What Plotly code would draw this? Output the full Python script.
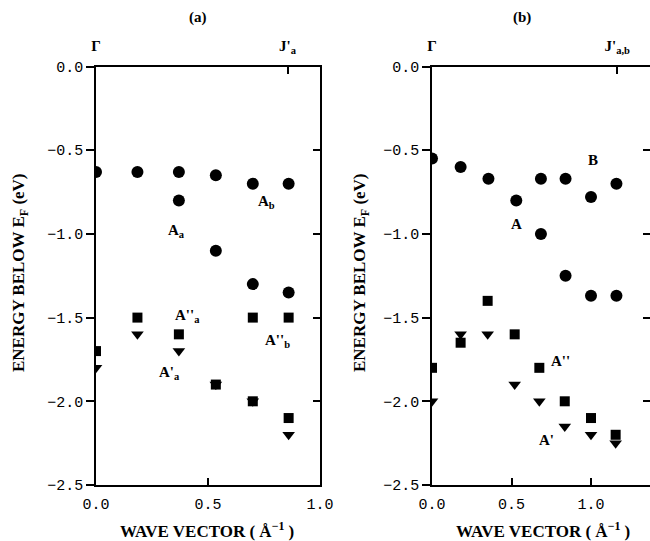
import plotly.graph_objects as go

# ---------------- data: panel (a) ----------------
a_circle_x = [0.0, 0.185, 0.37, 0.37, 0.535, 0.535, 0.70, 0.70, 0.86, 0.86]
a_circle_y = [-0.63, -0.63, -0.63, -0.80, -0.65, -1.10, -0.70, -1.30, -0.70, -1.35]
a_square_x = [0.0, 0.185, 0.37, 0.535, 0.70, 0.70, 0.86, 0.86]
a_square_y = [-1.70, -1.50, -1.60, -1.90, -1.50, -2.00, -1.50, -2.10]
a_tri_x = [0.0, 0.185, 0.37, 0.535, 0.70, 0.86]
a_tri_y = [-1.80, -1.60, -1.70, -1.90, -2.00, -2.20]

# ---------------- data: panel (b) ----------------
b_circle_x = [0.0, 0.18, 0.355, 0.53, 0.685, 0.685, 0.84, 0.84, 1.0, 1.0, 1.16, 1.16]
b_circle_y = [-0.55, -0.60, -0.67, -0.80, -0.67, -1.00, -0.67, -1.25, -0.78, -1.37, -0.70, -1.37]
b_square_x = [0.0, 0.18, 0.35, 0.52, 0.675, 0.835, 1.0, 1.155]
b_square_y = [-1.80, -1.65, -1.40, -1.60, -1.80, -2.00, -2.10, -2.20]
b_tri_x = [0.0, 0.18, 0.35, 0.52, 0.675, 0.835, 1.0, 1.155]
b_tri_y = [-2.00, -1.60, -1.60, -1.90, -2.00, -2.15, -2.20, -2.25]

# ---------------- ticks ----------------
x_tick_vals = [0.0, 0.5, 1.0]
x_tick_text = ["0.0", "0.5", "1.0"]
y_tick_vals = [0.0, -0.5, -1.0, -1.5, -2.0, -2.5]
y_tick_text = ["0.0", "\u22120.5", "\u22121.0", "\u22121.5", "\u22122.0", "\u22122.5"]
top_a_vals = [0.0, 0.855]
top_a_text = ["\u0393", "J'<sub>a</sub>"]
top_b_vals = [0.0, 1.165]
top_b_text = ["\u0393", "J'<sub>a,b</sub>"]

# ---------------- band labels ----------------
a_label_text = ["A<sub>a</sub>", "A<sub>b</sub>", "A''<sub>a</sub>", "A'<sub>a</sub>", "A''<sub>b</sub>"]
a_label_x = [0.36, 0.76, 0.41, 0.33, 0.81]
a_label_y = [-0.98, -0.81, -1.49, -1.83, -1.64]
b_label_text = ["B", "A", "A''", "A'"]
b_label_x = [1.01, 0.53, 0.81, 0.72]
b_label_y = [-0.56, -0.94, -1.76, -2.23]

W, H = 650, 541
def px(p):
    return p / W
def py(p):
    return 1 - p / H

TICKFONT = dict(family="Liberation Mono", size=15, color="black")
LABFONT = dict(family="Liberation Serif", size=15, color="black", weight="bold")
TITLEFONT = dict(family="Liberation Serif", size=17, color="black", weight="bold")

fig = go.Figure()

def add_points(xs, ys, symbol, size, xa, ya):
    fig.add_trace(go.Scatter(x=xs, y=ys, mode="markers", xaxis=xa, yaxis=ya,
                             marker=dict(symbol=symbol, size=size, color="black",
                                         line=dict(width=0)),
                             showlegend=False, hoverinfo="x+y"))

# circles and squares on the bottom/left axes, triangles on the top/right
# overlay axes (identical ranges and domains)
add_points(a_circle_x, a_circle_y, "circle", 12, "x", "y")
add_points(a_tri_x, a_tri_y, "triangle-down", 11, "x3", "y3")
add_points(a_square_x, a_square_y, "square", 10, "x", "y")
add_points(b_circle_x, b_circle_y, "circle", 12, "x2", "y2")
add_points(b_tri_x, b_tri_y, "triangle-down", 11, "x4", "y4")
add_points(b_square_x, b_square_y, "square", 10, "x2", "y2")

y_dom = [py(485), py(66.5)]
xa_dom = [px(96), px(320)]
xb_dom = [px(432), 1.0]
xb_range = [0, (650 - 432) / 159.0]

common_x = dict(tickmode="array", tickvals=x_tick_vals, ticktext=x_tick_text,
                ticks="inside", ticklen=7, tickwidth=1.5, tickcolor="black",
                showline=True, linecolor="black", linewidth=1.5, mirror=True,
                showgrid=False, zeroline=False, tickfont=TICKFONT, ticklabelstandoff=4,
                automargin=False)
common_y = dict(tickmode="array", tickvals=y_tick_vals, ticktext=y_tick_text,
                ticks="outside", ticklen=8, tickwidth=1.5, tickcolor="black",
                showline=True, linecolor="black", linewidth=1.5, mirror=True,
                showgrid=False, zeroline=False, tickfont=TICKFONT, range=[-2.5, 0],
                domain=y_dom, automargin=False)
right_y = dict(tickmode="array", tickvals=y_tick_vals, ticks="inside", ticklen=7,
               tickwidth=1.5, tickcolor="black", showticklabels=False, showline=False,
               showgrid=False, zeroline=False, range=[-2.5, 0], side="right",
               automargin=False)
top_x = dict(tickmode="array", ticks="inside", ticklen=7, tickwidth=1.5, tickcolor="black",
             showline=False, showgrid=False, zeroline=False, side="top",
             tickfont=LABFONT, ticklabelstandoff=12, automargin=False)

fig.update_layout(
    width=W, height=H, margin=dict(l=0, r=0, t=0, b=0, autoexpand=False),
    paper_bgcolor="white", plot_bgcolor="white",
    xaxis=dict(domain=xa_dom, range=[0, 1.0], anchor="y", **common_x),
    yaxis=dict(anchor="x", **common_y),
    xaxis2=dict(domain=xb_dom, range=xb_range, anchor="y2", **common_x),
    yaxis2=dict(anchor="x2", **common_y),
    xaxis3=dict(overlaying="x", anchor="y", range=[0, 1.0], tickvals=top_a_vals,
                ticktext=top_a_text, **top_x),
    yaxis3=dict(overlaying="y", anchor="x", **right_y),
    xaxis4=dict(overlaying="x2", anchor="y2", range=xb_range, tickvals=top_b_vals,
                ticktext=top_b_text, **top_x),
    yaxis4=dict(overlaying="y2", anchor="x2", **right_y),
)

ann = []
for t, x, y in zip(a_label_text, a_label_x, a_label_y):
    ann.append(dict(text=t, x=x, y=y, xref="x", yref="y", showarrow=False, font=LABFONT,
                    xanchor="center", yanchor="middle"))
for t, x, y in zip(b_label_text, b_label_x, b_label_y):
    ann.append(dict(text=t, x=x, y=y, xref="x2", yref="y2", showarrow=False, font=LABFONT,
                    xanchor="center", yanchor="middle"))

# panel titles
for t, xx in (("(a)", 198), ("(b)", 522)):
    ann.append(dict(text=t, x=px(xx), y=py(18), xref="paper", yref="paper",
                    showarrow=False, font=LABFONT, xanchor="center", yanchor="middle"))
# axis titles
ytitle = "ENERGY BELOW E<sub>F</sub> (eV)"
xtitle = "WAVE VECTOR ( \u00c5<sup>\u22121</sup> )"
for xx in (20, 361):
    ann.append(dict(text=ytitle, x=px(xx), y=py(273), xref="paper", yref="paper",
                    showarrow=False, textangle=-90, font=TITLEFONT,
                    xanchor="center", yanchor="middle"))
for xx in (207, 543):
    ann.append(dict(text=xtitle, x=px(xx), y=py(530), xref="paper", yref="paper",
                    showarrow=False, font=TITLEFONT, xanchor="center", yanchor="middle"))
fig.update_layout(annotations=ann)

fig.write_html("out.html", config={"displayModeBar": False},
               post_script="document.body.style.margin='0px';document.body.style.overflow='hidden';")
